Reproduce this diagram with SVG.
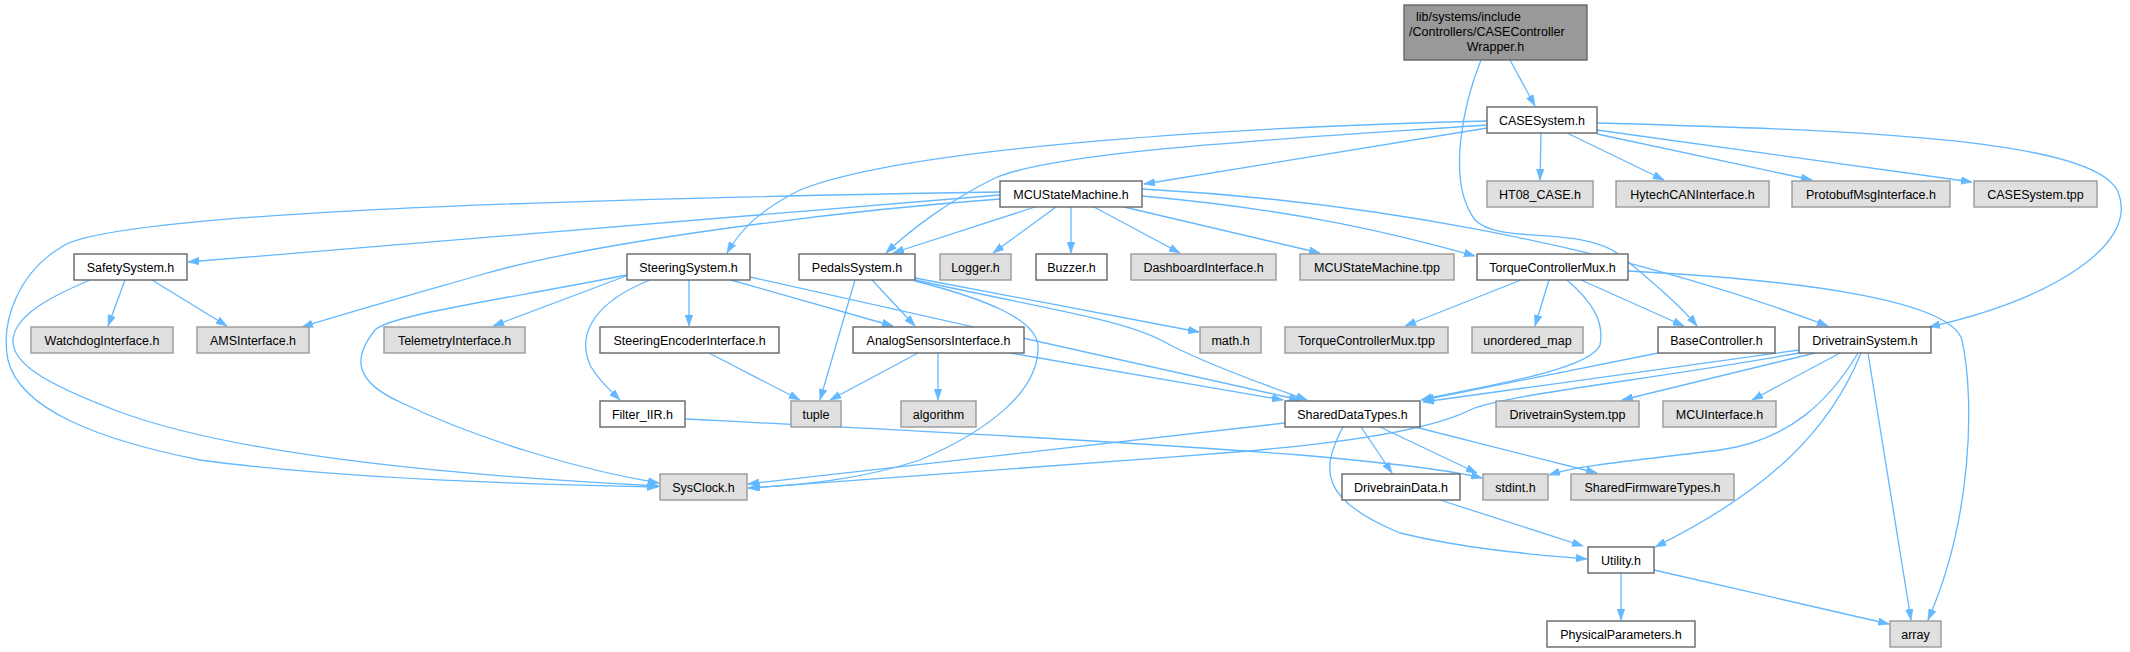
<svg xmlns="http://www.w3.org/2000/svg" width="2130" height="652" viewBox="0 0 2130 652">
<style>
.n rect{stroke-width:1.4}
.w rect{fill:#ffffff;stroke:#666666}
.g rect{fill:#e0e0e0;stroke:#999999}
.t rect{fill:#999999;stroke:#666666}
text{font-family:"Liberation Sans",Arial,Helvetica,sans-serif;font-size:12.5px;fill:#000000;text-anchor:middle}
.e path{fill:none;stroke:#63b8ff;stroke-width:1.3;marker-end:url(#ah)}
</style>
<defs>
<marker id="ah" viewBox="0 0 10 7" refX="10" refY="3.5" markerWidth="11" markerHeight="8" orient="auto" markerUnits="userSpaceOnUse">
<path d="M0,0 L10,3.5 L0,7 z" fill="#63b8ff" stroke="#63b8ff" stroke-width="0.5"/>
</marker>
</defs>
<rect width="2130" height="652" fill="#ffffff"/>
<g id="edges" class="e">
<path d="M1510,60 L1535,106"/>
<path d="M1481,60 C1465,100 1445,180 1475,220 C1500,245 1580,225 1620,255 C1650,280 1680,305 1697,326"/>
<path d="M1541,133 L1540,180"/>
<path d="M1567,133 L1664,180"/>
<path d="M1597,134 L1812,180"/>
<path d="M1597,130 L1972,182"/>
<path d="M1597,123 C1850,130 2095,138 2118,192 C2140,245 2050,300 1929,327"/>
<path d="M1487,128 L1144,184"/>
<path d="M1487,125 C1300,138 1060,150 995,178 C950,200 910,230 886,253"/>
<path d="M1487,121 C1200,128 900,150 800,190 C760,210 740,230 727,253"/>
<path d="M1000,195 L188,262"/>
<path d="M1000,192 C500,200 100,215 60,248 C20,272 0,320 8,360 C20,410 100,440 200,460 C350,480 550,485 658,487"/>
<path d="M1000,199 C850,210 600,240 480,275 C400,298 340,315 302,327"/>
<path d="M1035,207 L893,253"/>
<path d="M1056,207 L993,253"/>
<path d="M1071,207 L1071,253"/>
<path d="M1094,207 L1180,253"/>
<path d="M1124,207 L1320,253"/>
<path d="M1142,196 C1300,210 1400,235 1475,256"/>
<path d="M1142,189 C1350,200 1600,240 1828,326"/>
<path d="M1521,280 L1405,326"/>
<path d="M1549,280 L1535,326"/>
<path d="M1581,280 L1684,326"/>
<path d="M1567,280 C1590,300 1605,320 1600,345 C1590,372 1460,390 1421,400"/>
<path d="M1628,271 C1800,280 1950,300 1962,340 C1975,400 1972,520 1928,620"/>
<path d="M1658,353 L1423,400"/>
<path d="M1799,350 L1423,402"/>
<path d="M1799,353 C1650,380 1500,395 1470,410 C1440,425 1380,440 1236,452 C1050,467 850,480 749,488"/>
<path d="M1815,353 L1622,400"/>
<path d="M1840,353 L1752,400"/>
<path d="M1858,353 C1830,400 1790,440 1720,450 C1640,460 1580,465 1549,475"/>
<path d="M1861,353 C1830,430 1770,490 1655,547"/>
<path d="M1868,353 L1911,620"/>
<path d="M1285,423 L748,484"/>
<path d="M1361,427 L1392,473"/>
<path d="M1343,427 C1320,470 1320,500 1400,533 C1470,550 1540,555 1587,559"/>
<path d="M1380,427 L1477,473"/>
<path d="M1415,427 L1597,473"/>
<path d="M1440,500 L1583,546"/>
<path d="M1621,573 L1621,620"/>
<path d="M1654,570 L1889,624"/>
<path d="M125,280 L108,326"/>
<path d="M152,280 L227,326"/>
<path d="M90,280 C50,297 15,315 13,340 C12,362 40,382 120,412 C250,460 500,478 659,486"/>
<path d="M626,276 L493,326"/>
<path d="M627,275 C500,300 390,315 375,330 C355,355 350,380 402,403 C480,440 580,470 659,483"/>
<path d="M689,280 L689,326"/>
<path d="M650,280 C600,300 575,330 590,365 C598,380 610,390 620,400"/>
<path d="M731,280 L893,326"/>
<path d="M750,277 L1300,400"/>
<path d="M915,278 L1199,332"/>
<path d="M915,280 C1050,310 1130,320 1170,345 C1220,370 1280,390 1307,400"/>
<path d="M915,281 C990,300 1035,320 1038,345 C1040,390 990,430 920,460 C860,480 800,485 748,488"/>
<path d="M872,280 L915,326"/>
<path d="M855,280 L820,400"/>
<path d="M709,353 L800,400"/>
<path d="M918,353 L830,400"/>
<path d="M938,353 L938,400"/>
<path d="M1010,353 L1283,400"/>
<path d="M685,419 C900,430 1100,440 1300,455 C1380,462 1450,470 1482,478"/>
</g>
<g id="n_top" class="n t"><rect x="1404" y="5" width="183" height="55"/><text x="1416" y="20.5" style="text-anchor:start">lib/systems/include</text><text x="1409" y="35.5" style="text-anchor:start">/Controllers/CASEController</text><text x="1495.5" y="50.5">Wrapper.h</text></g>
<g id="n_case" class="n w"><rect x="1487" y="107" width="110" height="26"/><text x="1542" y="124.5">CASESystem.h</text></g>
<g id="n_mcu" class="n w"><rect x="1000" y="181" width="142" height="26"/><text x="1071" y="198.5">MCUStateMachine.h</text></g>
<g id="n_ht08" class="n g"><rect x="1487" y="181" width="106" height="26"/><text x="1540" y="198.5">HT08_CASE.h</text></g>
<g id="n_hytech" class="n g"><rect x="1616" y="181" width="153" height="26"/><text x="1692.5" y="198.5">HytechCANInterface.h</text></g>
<g id="n_proto" class="n g"><rect x="1792" y="181" width="158" height="26"/><text x="1871" y="198.5">ProtobufMsgInterface.h</text></g>
<g id="n_casetpp" class="n g"><rect x="1974" y="181" width="123" height="26"/><text x="2035.5" y="198.5">CASESystem.tpp</text></g>
<g id="n_safety" class="n w"><rect x="74" y="254" width="113" height="26"/><text x="130.5" y="271.5">SafetySystem.h</text></g>
<g id="n_steering" class="n w"><rect x="627" y="254" width="123" height="26"/><text x="688.5" y="271.5">SteeringSystem.h</text></g>
<g id="n_pedals" class="n w"><rect x="799" y="254" width="116" height="26"/><text x="857" y="271.5">PedalsSystem.h</text></g>
<g id="n_logger" class="n g"><rect x="940" y="254" width="71" height="26"/><text x="975.5" y="271.5">Logger.h</text></g>
<g id="n_buzzer" class="n w"><rect x="1036" y="254" width="71" height="26"/><text x="1071.5" y="271.5">Buzzer.h</text></g>
<g id="n_dash" class="n g"><rect x="1131" y="254" width="145" height="26"/><text x="1203.5" y="271.5">DashboardInterface.h</text></g>
<g id="n_mcutpp" class="n g"><rect x="1300" y="254" width="154" height="26"/><text x="1377" y="271.5">MCUStateMachine.tpp</text></g>
<g id="n_tcm" class="n w"><rect x="1477" y="254" width="151" height="26"/><text x="1552.5" y="271.5">TorqueControllerMux.h</text></g>
<g id="n_watchdog" class="n g"><rect x="31" y="327" width="142" height="26"/><text x="102" y="344.5">WatchdogInterface.h</text></g>
<g id="n_ams" class="n g"><rect x="197" y="327" width="112" height="26"/><text x="253" y="344.5">AMSInterface.h</text></g>
<g id="n_telemetry" class="n g"><rect x="384" y="327" width="141" height="26"/><text x="454.5" y="344.5">TelemetryInterface.h</text></g>
<g id="n_steerenc" class="n w"><rect x="600" y="327" width="179" height="26"/><text x="689.5" y="344.5">SteeringEncoderInterface.h</text></g>
<g id="n_analog" class="n w"><rect x="853" y="327" width="171" height="26"/><text x="938.5" y="344.5">AnalogSensorsInterface.h</text></g>
<g id="n_math" class="n g"><rect x="1200" y="327" width="61" height="26"/><text x="1230.5" y="344.5">math.h</text></g>
<g id="n_tcmtpp" class="n g"><rect x="1285" y="327" width="163" height="26"/><text x="1366.5" y="344.5">TorqueControllerMux.tpp</text></g>
<g id="n_umap" class="n g"><rect x="1472" y="327" width="111" height="26"/><text x="1527.5" y="344.5">unordered_map</text></g>
<g id="n_base" class="n w"><rect x="1658" y="327" width="117" height="26"/><text x="1716.5" y="344.5">BaseController.h</text></g>
<g id="n_drive" class="n w"><rect x="1799" y="327" width="132" height="26"/><text x="1865" y="344.5">DrivetrainSystem.h</text></g>
<g id="n_filter" class="n w"><rect x="600" y="401" width="85" height="26"/><text x="642.5" y="418.5">Filter_IIR.h</text></g>
<g id="n_tuple" class="n g"><rect x="791" y="401" width="50" height="26"/><text x="816" y="418.5">tuple</text></g>
<g id="n_algo" class="n g"><rect x="901" y="401" width="75" height="26"/><text x="938.5" y="418.5">algorithm</text></g>
<g id="n_shared" class="n w"><rect x="1285" y="401" width="135" height="26"/><text x="1352.5" y="418.5">SharedDataTypes.h</text></g>
<g id="n_drivetpp" class="n g"><rect x="1496" y="401" width="143" height="26"/><text x="1567.5" y="418.5">DrivetrainSystem.tpp</text></g>
<g id="n_mcuif" class="n g"><rect x="1663" y="401" width="113" height="26"/><text x="1719.5" y="418.5">MCUInterface.h</text></g>
<g id="n_sysclock" class="n g"><rect x="660" y="474" width="87" height="26"/><text x="703.5" y="491.5">SysClock.h</text></g>
<g id="n_dbdata" class="n w"><rect x="1342" y="474" width="118" height="26"/><text x="1401" y="491.5">DrivebrainData.h</text></g>
<g id="n_stdint" class="n g"><rect x="1483" y="474" width="65" height="26"/><text x="1515.5" y="491.5">stdint.h</text></g>
<g id="n_sfw" class="n g"><rect x="1571" y="474" width="163" height="26"/><text x="1652.5" y="491.5">SharedFirmwareTypes.h</text></g>
<g id="n_utility" class="n w"><rect x="1588" y="547" width="66" height="26"/><text x="1621" y="564.5">Utility.h</text></g>
<g id="n_phys" class="n w"><rect x="1547" y="621" width="148" height="26"/><text x="1621" y="638.5">PhysicalParameters.h</text></g>
<g id="n_array" class="n g"><rect x="1890" y="621" width="51" height="26"/><text x="1915.5" y="638.5">array</text></g>
</svg>
